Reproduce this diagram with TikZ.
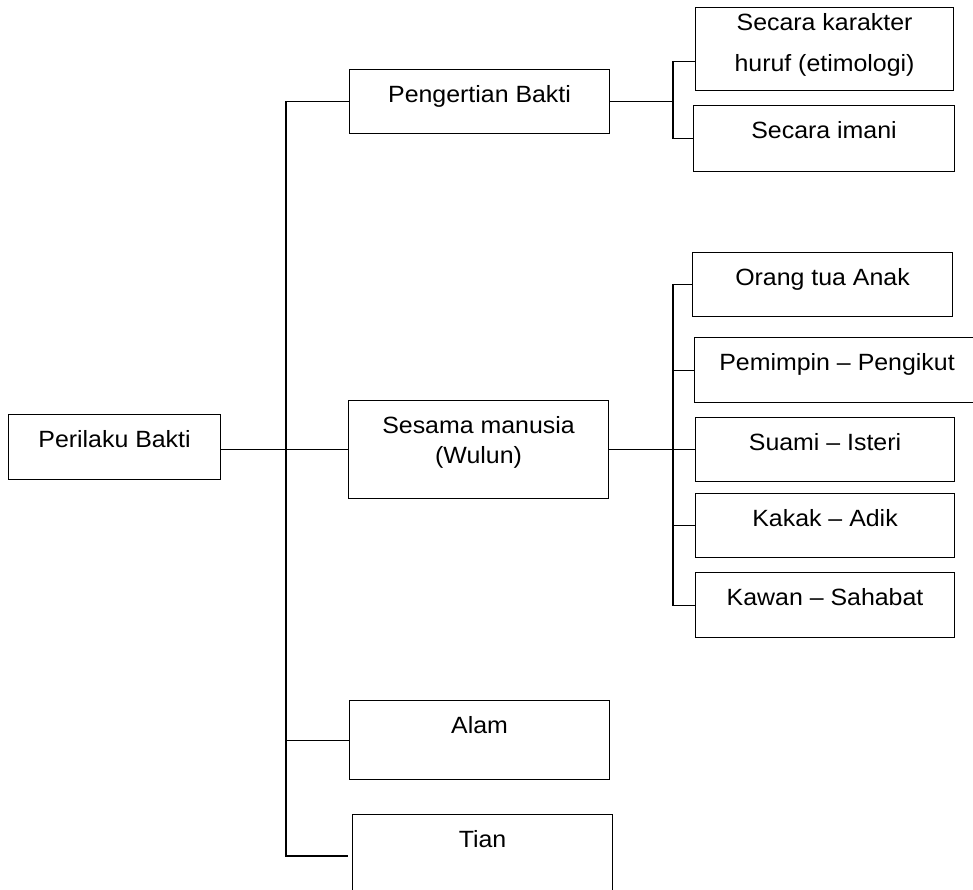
\documentclass[tikz,border=0pt]{standalone}
\usepackage{fontspec}
\setmainfont{Liberation Sans}[FakeStretch=1.06]
\tikzset{kotak/.style={draw, rectangle, anchor=north west, align=center, minimum width=260pt, inner ysep=15pt, text height=18pt, text depth=#1}}

\begin{document}
\begin{tikzpicture}[x=1pt, y=-1pt, line width=1.1pt, font=\fontsize{23.5}{30}\selectfont]
        \path[use as bounding box, clip] (0,0) rectangle (973,889);
        \node[kotak=17pt, minimum width=212pt] (perilaku) at (8,414) {Perilaku Bakti};
        \node[kotak=16pt] (pengertian) at (349,69) {Pengertian Bakti};
        \node[kotak=20pt, text height=48pt] (sesama) at (348,400) {Sesama manusia\\(Wulun)};
        \node[kotak=31pt] (alam) at (349,700) {Alam};
        \node[kotak=50pt] (tian) at (352,814) {Tian};
        \node[kotak=4pt, minimum width=258pt, text height=49pt] (karakter) at (695,7) {Secara karakter\\[11pt]huruf (etimologi)};
        \node[kotak=18pt, minimum width=261pt] (imani) at (693,105) {Secara imani};
        \node[kotak=16pt] (orangtua) at (692,252) {Orang tua Anak};
        \node[kotak=17pt, minimum width=285pt] (pemimpin) at (694,337) {Pemimpin -- Pengikut};
        \node[kotak=16pt, minimum width=259pt] (suami) at (695,417) {Suami -- Isteri};
        \node[kotak=16pt, minimum width=259pt] (kakak) at (695,493) {Kakak -- Adik};
        \node[kotak=17pt, minimum width=259pt] (kawan) at (695,572) {Kawan -- Sahabat};
        \coordinate (batang) at (286,0);
        \coordinate (cabang) at (673,0);
        \coordinate (ujungtian) at (348,856);
        \draw (perilaku.east |- sesama.west) -- (sesama.west);
        \draw (pengertian.west) -- (pengertian.west -| batang) -- (ujungtian -| batang) -- (ujungtian);
        \draw (alam.west) -- (alam.west -| batang);
        \draw (pengertian.east) -- (pengertian.east -| cabang);
        \draw ([yshift=-12pt]karakter.west) -| (imani.west -| cabang) -- (imani.west);
        \draw (sesama.east) -- (sesama.east -| cabang);
        \draw (orangtua.west) -| (kawan.west -| cabang) -- (kawan.west);
        \foreach \n in {pemimpin, suami, kakak}
            \draw (\n.west) -- (\n.west -| cabang);
    \end{tikzpicture}
\end{document}
